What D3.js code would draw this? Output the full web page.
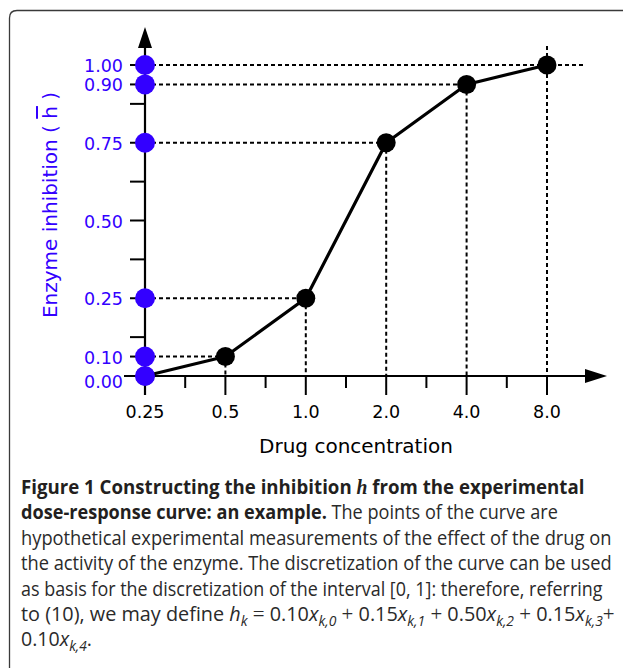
<!DOCTYPE html>
<html>
<head>
<meta charset="utf-8">
<script src="https://cdn.jsdelivr.net/npm/d3@7"></script>
<style>
  html, body { margin: 0; padding: 0; background: #fff; }
  svg { display: block; }
</style>
</head>
<body>
<svg id="fig" width="623" height="668"></svg>
<script>
// Dose-response data: drug concentration vs. enzyme inhibition
const concentrations = [0.25, 0.5, 1.0, 2.0, 4.0, 8.0];
const inhibition = [0.00, 0.10, 0.25, 0.75, 0.90, 1.00];
const xTickLabels = ["0.25", "0.5", "1.0", "2.0", "4.0", "8.0"];
const yTickValues = [0.00, 0.10, 0.25, 0.50, 0.75, 0.90, 1.00];
const yTickLabels = ["0.00", "0.10", "0.25", "0.50", "0.75", "0.90", "1.00"];
const yQuarterValues = [0.00, 0.25, 0.50, 0.75, 1.00];

// Caption runs: b = bold, bi = bold italic serif, r = regular, i = italic, s = subscript, m = operator
const captionLines = [
  [["b", "Figure 1 Constructing the inhibition "], ["bi", "h"], ["b", " from the experimental"]],
  [["b", "dose-response curve: an example."], ["r", " The points of the curve are"]],
  [["r", "hypothetical experimental measurements of the effect of the drug on"]],
  [["r", "the activity of the enzyme. The discretization of the curve can be used"]],
  [["r", "as basis for the discretization of the interval [0, 1]: therefore, referring"]],
  [["r", "to (10), we may define "], ["i", "h"], ["s", "k"], ["m", " = "], ["r", "0.10"], ["i", "x"], ["s", "k,0"],
   ["m", " + "], ["r", "0.15"], ["i", "x"], ["s", "k,1"], ["m", " + "], ["r", "0.50"], ["i", "x"], ["s", "k,2"],
   ["m", " + "], ["r", "0.15"], ["i", "x"], ["s", "k,3"], ["m", "+"]],
  [["r", "0.10"], ["i", "x"], ["s", "k,4"], ["r", "."]]
];

const BLUE = "#3300ff";
const svg = d3.select("#fig");

// Outer panel frame with rounded corner
svg.append("path")
  .attr("d", "M9.5,700 L9.5,18 Q9.5,10.5 17,10.5 L640,10.5")
  .attr("fill", "none").attr("stroke", "#3a3a3a").attr("stroke-width", 1.3);

// Scales
const x = d3.scaleLog().base(2).domain([0.25, 8]).range([145, 547]);
const yBottom = 376, yHeight = 311;
// Schematic vertical axis: the outer levels 0.10 / 0.90 sit at 1/16 and 15/16 of the span
const yFrac = [0, 1 / 16, 1 / 4, 1 / 2, 3 / 4, 15 / 16, 1];
const y = d3.scaleLinear().domain(yTickValues).range(yFrac.map(f => yBottom - f * yHeight));

const x0 = x(concentrations[0]);
const y0 = y(0);
const axisFont = "'DejaVu Sans', sans-serif";

const g = svg.append("g");

// Dashed guide lines
const dash = "4,3";
const pts = concentrations.map((c, i) => ({ c, h: inhibition[i] }));
pts.forEach((p, i) => {
  if (i === 0) return;
  const last = i === pts.length - 1;
  g.append("line")
    .attr("x1", x0).attr("x2", last ? x(p.c) + 39 : x(p.c))
    .attr("y1", y(p.h)).attr("y2", y(p.h))
    .attr("stroke", "#000").attr("stroke-width", 2).attr("stroke-dasharray", dash);
  g.append("line")
    .attr("x1", x(p.c)).attr("x2", x(p.c))
    .attr("y1", last ? y(p.h) - 19 : y(p.h)).attr("y2", y0)
    .attr("stroke", "#000").attr("stroke-width", 2).attr("stroke-dasharray", dash);
});

// X axis line + arrow
g.append("line").attr("x1", x0 - 21).attr("x2", 590).attr("y1", y0).attr("y2", y0)
  .attr("stroke", "#000").attr("stroke-width", 2.2);
g.append("path").attr("d", `M607,${y0} L585,${y0 - 7} L585,${y0 + 7} Z`).attr("fill", "#000");

// Y axis line + arrow
g.append("line").attr("x1", x0).attr("x2", x0).attr("y1", y0 + 19).attr("y2", 45)
  .attr("stroke", "#000").attr("stroke-width", 2.2);
g.append("path").attr("d", `M${x0},27 L${x0 - 7},48 L${x0 + 7},48 Z`).attr("fill", "#000");

// X ticks: major at each concentration, minor at geometric midpoints
concentrations.forEach((c, i) => {
  g.append("line").attr("x1", x(c)).attr("x2", x(c)).attr("y1", y0).attr("y2", y0 + 19)
    .attr("stroke", "#000").attr("stroke-width", 2);
  if (i < concentrations.length - 1) {
    const m = Math.sqrt(c * concentrations[i + 1]);
    g.append("line").attr("x1", x(m)).attr("x2", x(m)).attr("y1", y0).attr("y2", y0 + 12)
      .attr("stroke", "#000").attr("stroke-width", 2);
  }
  g.append("text").attr("x", x(c)).attr("y", y0 + 42)
    .attr("text-anchor", "middle")
    .attr("font-family", axisFont).attr("font-size", 17.5).attr("fill", "#000")
    .text(xTickLabels[i]);
});

// Y ticks: labelled levels plus unlabelled midpoints between quarter marks
yTickValues.forEach(v => {
  g.append("line").attr("x1", x0 - 15).attr("x2", x0).attr("y1", y(v)).attr("y2", y(v))
    .attr("stroke", "#000").attr("stroke-width", 2);
});
for (let i = 0; i < yQuarterValues.length - 1; i++) {
  const ym = (y(yQuarterValues[i]) + y(yQuarterValues[i + 1])) / 2;
  g.append("line").attr("x1", x0 - 15).attr("x2", x0).attr("y1", ym).attr("y2", ym)
    .attr("stroke", "#000").attr("stroke-width", 2);
}
yTickValues.forEach((v, i) => {
  g.append("text").attr("x", x0 - 22).attr("y", y(v) + (v === 0 ? 6 : 1))
    .attr("text-anchor", "end").attr("dominant-baseline", "central")
    .attr("font-family", axisFont).attr("font-size", 17.5).attr("fill", BLUE)
    .text(yTickLabels[i]);
});

// Response curve
g.append("path").datum(pts)
  .attr("d", d3.line().x(d => x(d.c)).y(d => y(d.h)))
  .attr("fill", "none").attr("stroke", "#000").attr("stroke-width", 3.2)
  .attr("stroke-linejoin", "round");
g.selectAll("circle.pt").data(pts).join("circle").attr("class", "pt")
  .attr("cx", d => x(d.c)).attr("cy", d => y(d.h)).attr("r", 9.5).attr("fill", "#000");

// Inhibition levels projected onto the vertical axis
g.selectAll("circle.lv").data(inhibition).join("circle").attr("class", "lv")
  .attr("cx", x0).attr("cy", d => y(d)).attr("r", 10).attr("fill", BLUE);

// Axis titles
g.append("text").attr("x", 356).attr("y", 453).attr("text-anchor", "middle")
  .attr("font-family", axisFont).attr("font-size", 20).attr("fill", "#000")
  .text("Drug concentration");

const yt = g.append("text").attr("transform", "translate(57,205) rotate(-90)")
  .attr("text-anchor", "middle")
  .attr("font-family", axisFont).attr("font-size", 20).attr("fill", BLUE);
yt.append("tspan").text("Enzyme inhibition ( ");
yt.append("tspan").attr("text-decoration", "overline").style("text-decoration", "overline").text("h");
yt.append("tspan").text(" )");

// Caption
const capLeft = 21, capTop = 494, capLead = 25.4;
const capRight = [585, 558, 612, 612, 603, 615, 92];
const capFont = "'Open Sans', 'Noto Sans', sans-serif";
const serif = "'Liberation Serif', 'DejaVu Serif', serif";
captionLines.forEach((runs, li) => {
  const t = svg.append("text").attr("x", 0).attr("y", 0)
    .attr("font-family", capFont).attr("font-size", 20).attr("fill", "#231f20");
  let sub = false;
  runs.forEach(([kind, str]) => {
    const ts = t.append("tspan").text(str);
    if (kind === "b") ts.attr("font-weight", 700);
    if (kind === "bi") ts.attr("font-weight", 700).attr("font-style", "italic")
      .style("font-family", serif).attr("font-size", 21);
    if (kind === "r") ts.attr("font-weight", 400).attr("fill", "#2a2a2a");
    if (kind === "m") ts.style("font-family", serif).attr("font-size", 21).attr("fill", "#2a2a2a");
    if (kind === "i") ts.attr("font-style", "italic").attr("fill", "#2a2a2a");
    if (kind === "s") {
      ts.attr("font-size", 14).attr("font-style", "italic").attr("dy", 5).attr("fill", "#2a2a2a");
      sub = true;
    } else if (sub) {
      ts.attr("dy", -5);
      sub = false;
    }
  });
  const w = t.node().getBBox().width;
  const target = capRight[li] - capLeft;
  t.attr("transform", `translate(${capLeft},${capTop + li * capLead}) scale(${target / w},1)`);
});
</script>
</body>
</html>
